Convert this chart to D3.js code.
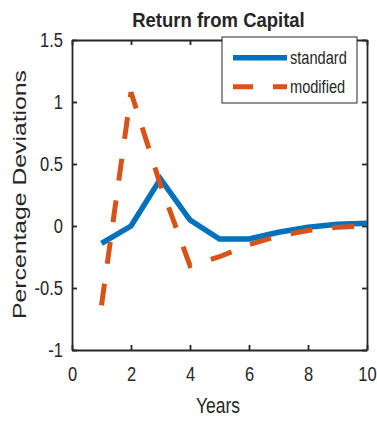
<!DOCTYPE html>
<html>
<head>
<meta charset="utf-8">
<script src="https://cdn.jsdelivr.net/npm/d3@7"></script>
<style>
  body { margin: 0; background: #fff; }
  text { font-family: "Liberation Sans", Arial, sans-serif; fill: #262626; }
</style>
</head>
<body>
<div id="chart"></div>
<script>
var years = [1, 2, 3, 4, 5, 6, 7, 8, 9, 10];
var standard = [-0.14, 0.0, 0.38, 0.048, -0.105, -0.105, -0.05, -0.01, 0.014, 0.022];
var modified = [-0.64, 1.078, 0.33, -0.32, -0.248, -0.15, -0.08, -0.036, -0.01, 0.0];
var xTicks = [0, 2, 4, 6, 8, 10];
var yTicks = [-1, -0.5, 0, 0.5, 1, 1.5];
var seriesNames = ["standard", "modified"];

var width = 377, height = 421;
var plotL = 72, plotR = 367, plotT = 40, plotB = 350;
var ink = "#262626";
var colors = ["#0072BD", "#D95319"];

var svg = d3.select("#chart").append("svg")
    .attr("width", width)
    .attr("height", height);

var x = d3.scaleLinear().domain([0, 10]).range([plotL, plotR]);
var y = d3.scaleLinear().domain([-1, 1.5]).range([plotB, plotT]);

function styleAxis(g) {
    g.select(".domain").attr("stroke", ink).attr("stroke-width", 1.8);
    g.selectAll(".tick line").attr("stroke", ink).attr("stroke-width", 1.8);
}

// bottom axis with labels
var gx = svg.append("g")
    .attr("transform", `translate(0,${plotB})`)
    .call(d3.axisBottom(x).tickValues(xTicks).tickSizeInner(-5).tickSizeOuter(0));
styleAxis(gx);
gx.selectAll(".tick text")
    .attr("y", 0).attr("dy", "0.35em")
    .attr("font-size", 16.5)
    .attr("fill", ink)
    .attr("transform", "translate(0,24.5) scale(1,1.2)");

// left axis with labels (plain hyphen for negatives, like the original)
var gy = svg.append("g")
    .attr("transform", `translate(${plotL},0)`)
    .call(d3.axisLeft(y).tickValues(yTicks).tickSizeInner(-5).tickSizeOuter(0)
        .tickFormat(d => String(d)));
styleAxis(gy);
gy.selectAll(".tick text")
    .attr("x", 0).attr("dy", "0.35em")
    .attr("font-size", 16.5)
    .attr("fill", ink)
    .attr("transform", "translate(-9,0) scale(1,1.2)");

// top and right box sides
var gt = svg.append("g")
    .attr("transform", `translate(0,${plotT})`)
    .call(d3.axisTop(x).tickValues(xTicks).tickSizeInner(-5).tickSizeOuter(0).tickFormat(""));
styleAxis(gt);
var gr = svg.append("g")
    .attr("transform", `translate(${plotR},0)`)
    .call(d3.axisRight(y).tickValues(yTicks).tickSizeInner(-5).tickSizeOuter(0).tickFormat(""));
styleAxis(gr);

// lines
var line = d3.line()
    .x((d, i) => x(years[i]))
    .y(d => y(d));

svg.append("path")
    .datum(standard)
    .attr("fill", "none")
    .attr("stroke", colors[0])
    .attr("stroke-width", 5.5)
    .attr("d", line);

svg.append("path")
    .datum(modified)
    .attr("fill", "none")
    .attr("stroke", colors[1])
    .attr("stroke-width", 5)
    .attr("stroke-dasharray", "22,20")
    .attr("d", line);

// title
svg.append("text")
    .attr("text-anchor", "middle")
    .attr("font-size", 18.5)
    .attr("font-weight", "bold")
    .attr("fill", "#000")
    .attr("transform", "translate(218.5,27) scale(1,1.13)")
    .text("Return from Capital");

// axis labels
svg.append("text")
    .attr("text-anchor", "middle")
    .attr("font-size", 17.5)
    .attr("transform", "translate(218,413) scale(1,1.28)")
    .text("Years");

svg.append("text")
    .attr("text-anchor", "middle")
    .attr("font-size", 18)
    .attr("textLength", 249)
    .attr("lengthAdjust", "spacingAndGlyphs")
    .attr("transform", "translate(26,194.5) rotate(-90)")
    .text("Percentage Deviations");

// legend
var legend = svg.append("g");
legend.append("rect")
    .attr("x", 222).attr("y", 37)
    .attr("width", 135).attr("height", 66)
    .attr("fill", "#fff")
    .attr("stroke", ink)
    .attr("stroke-width", 1);

var rowY = [57.7, 86.7];
seriesNames.forEach(function(name, i){
    legend.append("line")
        .attr("x1", 233).attr("x2", 287)
        .attr("y1", rowY[i]).attr("y2", rowY[i])
        .attr("stroke", colors[i])
        .attr("stroke-width", i == 0 ? 5.5 : 5)
        .attr("stroke-dasharray", i == 0 ? null : "20,20");
    legend.append("text")
        .attr("font-size", 14.6)
        .attr("dy", "0.35em")
        .attr("transform", `translate(290,${rowY[i]}) scale(1,1.2)`)
        .text(name);
});
</script>
</body>
</html>
